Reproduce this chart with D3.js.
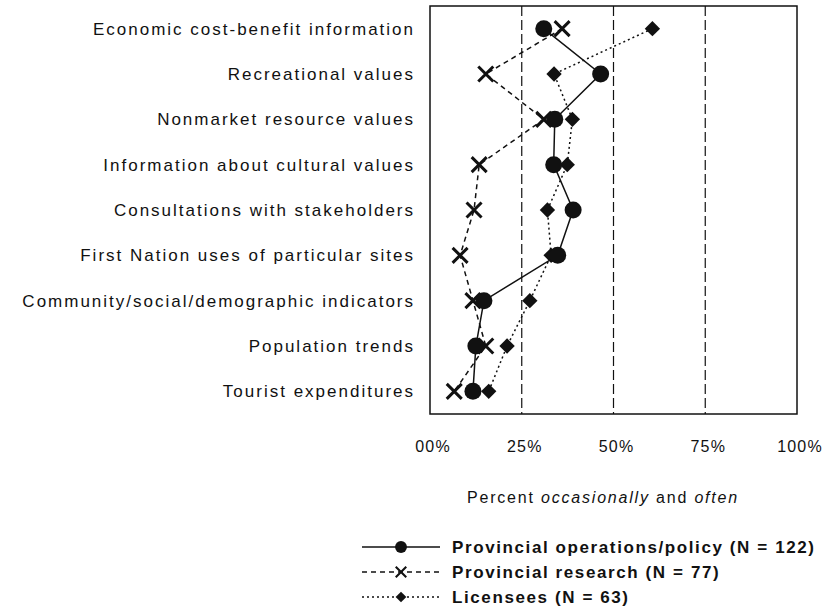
<!DOCTYPE html>
<html>
<head>
<meta charset="utf-8">
<script src="https://cdn.jsdelivr.net/npm/d3@7"></script>
<style>
  body { margin: 0; background: #fff; }
  svg text { font-family: "Liberation Sans", Arial, sans-serif; fill: #111; }
</style>
</head>
<body>
<div id="chart"></div>
<script>
const categories = [
  "Economic cost-benefit information",
  "Recreational values",
  "Nonmarket resource values",
  "Information about cultural values",
  "Consultations with stakeholders",
  "First Nation uses of particular sites",
  "Community/social/demographic indicators",
  "Population trends",
  "Tourist expenditures"
];
const operations = [31, 46.5, 34, 33.7, 39, 34.8, 14.7, 12.5, 11.7];
const research = [36, 15.2, 31, 13.4, 12, 8.2, 11.7, 15.2, 6.6];
const licensees = [60.6, 33.8, 38.8, 37.4, 32, 33, 27.2, 21, 16];
const xTicks = [0, 25, 50, 75, 100];
const xTickLabels = ["00%", "25%", "50%", "75%", "100%"];
const gridValues = [25, 50, 75];

const width = 825, height = 613;
const plotLeft = 430, plotRight = 797, plotTop = 6, plotBottom = 414;

const svg = d3.select("#chart").append("svg")
    .attr("width", width)
    .attr("height", height);

const x = d3.scaleLinear().domain([0, 100]).range([plotLeft, plotRight]);
const y = d3.scalePoint().domain(categories).range([plotTop, plotBottom]).padding(0.5);

// dashed gridlines
svg.append("g")
    .selectAll("line")
    .data(gridValues)
    .enter().append("line")
    .attr("x1", d => x(d)).attr("x2", d => x(d))
    .attr("y1", plotTop).attr("y2", plotBottom)
    .attr("stroke", "#111")
    .attr("stroke-width", 1.2)
    .attr("stroke-dasharray", "10,4");

// frame
svg.append("rect")
    .attr("x", plotLeft).attr("y", plotTop)
    .attr("width", plotRight - plotLeft).attr("height", plotBottom - plotTop)
    .attr("fill", "none")
    .attr("stroke", "#111")
    .attr("stroke-width", 1.5);

// category labels
svg.append("g")
    .selectAll("text")
    .data(categories)
    .enter().append("text")
    .attr("x", 415)
    .attr("y", d => y(d))
    .attr("dy", "0.35em")
    .attr("text-anchor", "end")
    .attr("font-size", "17px")
    .attr("letter-spacing", "2px")
    .text(d => d);

// x tick labels
svg.append("g")
    .selectAll("text")
    .data(xTicks)
    .enter().append("text")
    .attr("x", d => x(d) + 3)
    .attr("y", 452)
    .attr("text-anchor", "middle")
    .attr("font-size", "16px")
    .attr("letter-spacing", "1.2px")
    .text((d, i) => xTickLabels[i]);

// x title
const title = svg.append("text")
    .attr("x", 603)
    .attr("y", 503)
    .attr("text-anchor", "middle")
    .attr("font-size", "16px")
    .attr("letter-spacing", "1.8px");
title.append("tspan").text("Percent ");
title.append("tspan").attr("font-style", "italic").text("occasionally");
title.append("tspan").text(" and ");
title.append("tspan").attr("font-style", "italic").text("often");

const series = [
  { name: "Provincial research (N = 77)", values: research, dash: "5,4", marker: "x" },
  { name: "Licensees (N = 63)", values: licensees, dash: "2,3", marker: "diamond" },
  { name: "Provincial operations/policy (N = 122)", values: operations, dash: null, marker: "circle" }
];

function drawMarker(g, type, cx, cy, scale) {
  const s = scale || 1;
  if (type === "circle") {
    g.append("circle").attr("cx", cx).attr("cy", cy).attr("r", 8.5 * s).attr("fill", "#111");
  } else if (type === "diamond") {
    g.append("path")
        .attr("d", d3.symbol().type(d3.symbolDiamond2).size(150 * s * s)())
        .attr("transform", `translate(${cx},${cy})`)
        .attr("fill", "#111");
  } else {
    const r = 7.5 * s;
    g.append("path")
        .attr("d", `M${cx - r},${cy - r}L${cx + r},${cy + r}M${cx - r},${cy + r}L${cx + r},${cy - r}`)
        .attr("stroke", "#111")
        .attr("stroke-width", 3 * s)
        .attr("fill", "none");
  }
}

const line = d3.line()
    .x(d => x(d.v))
    .y(d => y(d.c));

series.forEach(s => {
  const pts = s.values.map((v, i) => ({ v: v, c: categories[i] }));
  svg.append("path")
      .datum(pts)
      .attr("d", line)
      .attr("fill", "none")
      .attr("stroke", "#111")
      .attr("stroke-width", 1.5)
      .attr("stroke-dasharray", s.dash);
  const g = svg.append("g");
  pts.forEach(p => drawMarker(g, s.marker, x(p.v), y(p.c)));
});

// legend
const legendItems = [series[2], series[0], series[1]];
const legend = svg.append("g");
legendItems.forEach((s, i) => {
  const ly = 547 + i * 25;
  legend.append("line")
      .attr("x1", 362).attr("x2", 440)
      .attr("y1", ly).attr("y2", ly)
      .attr("stroke", "#111")
      .attr("stroke-width", 1.3)
      .attr("stroke-dasharray", s.dash);
  drawMarker(legend, s.marker, 401, ly, 0.7);
  legend.append("text")
      .attr("x", 452)
      .attr("y", ly)
      .attr("dy", "0.35em")
      .attr("font-size", "17px")
      .attr("font-weight", "bold")
      .attr("letter-spacing", "1.6px")
      .text(s.name);
});
</script>
</body>
</html>
